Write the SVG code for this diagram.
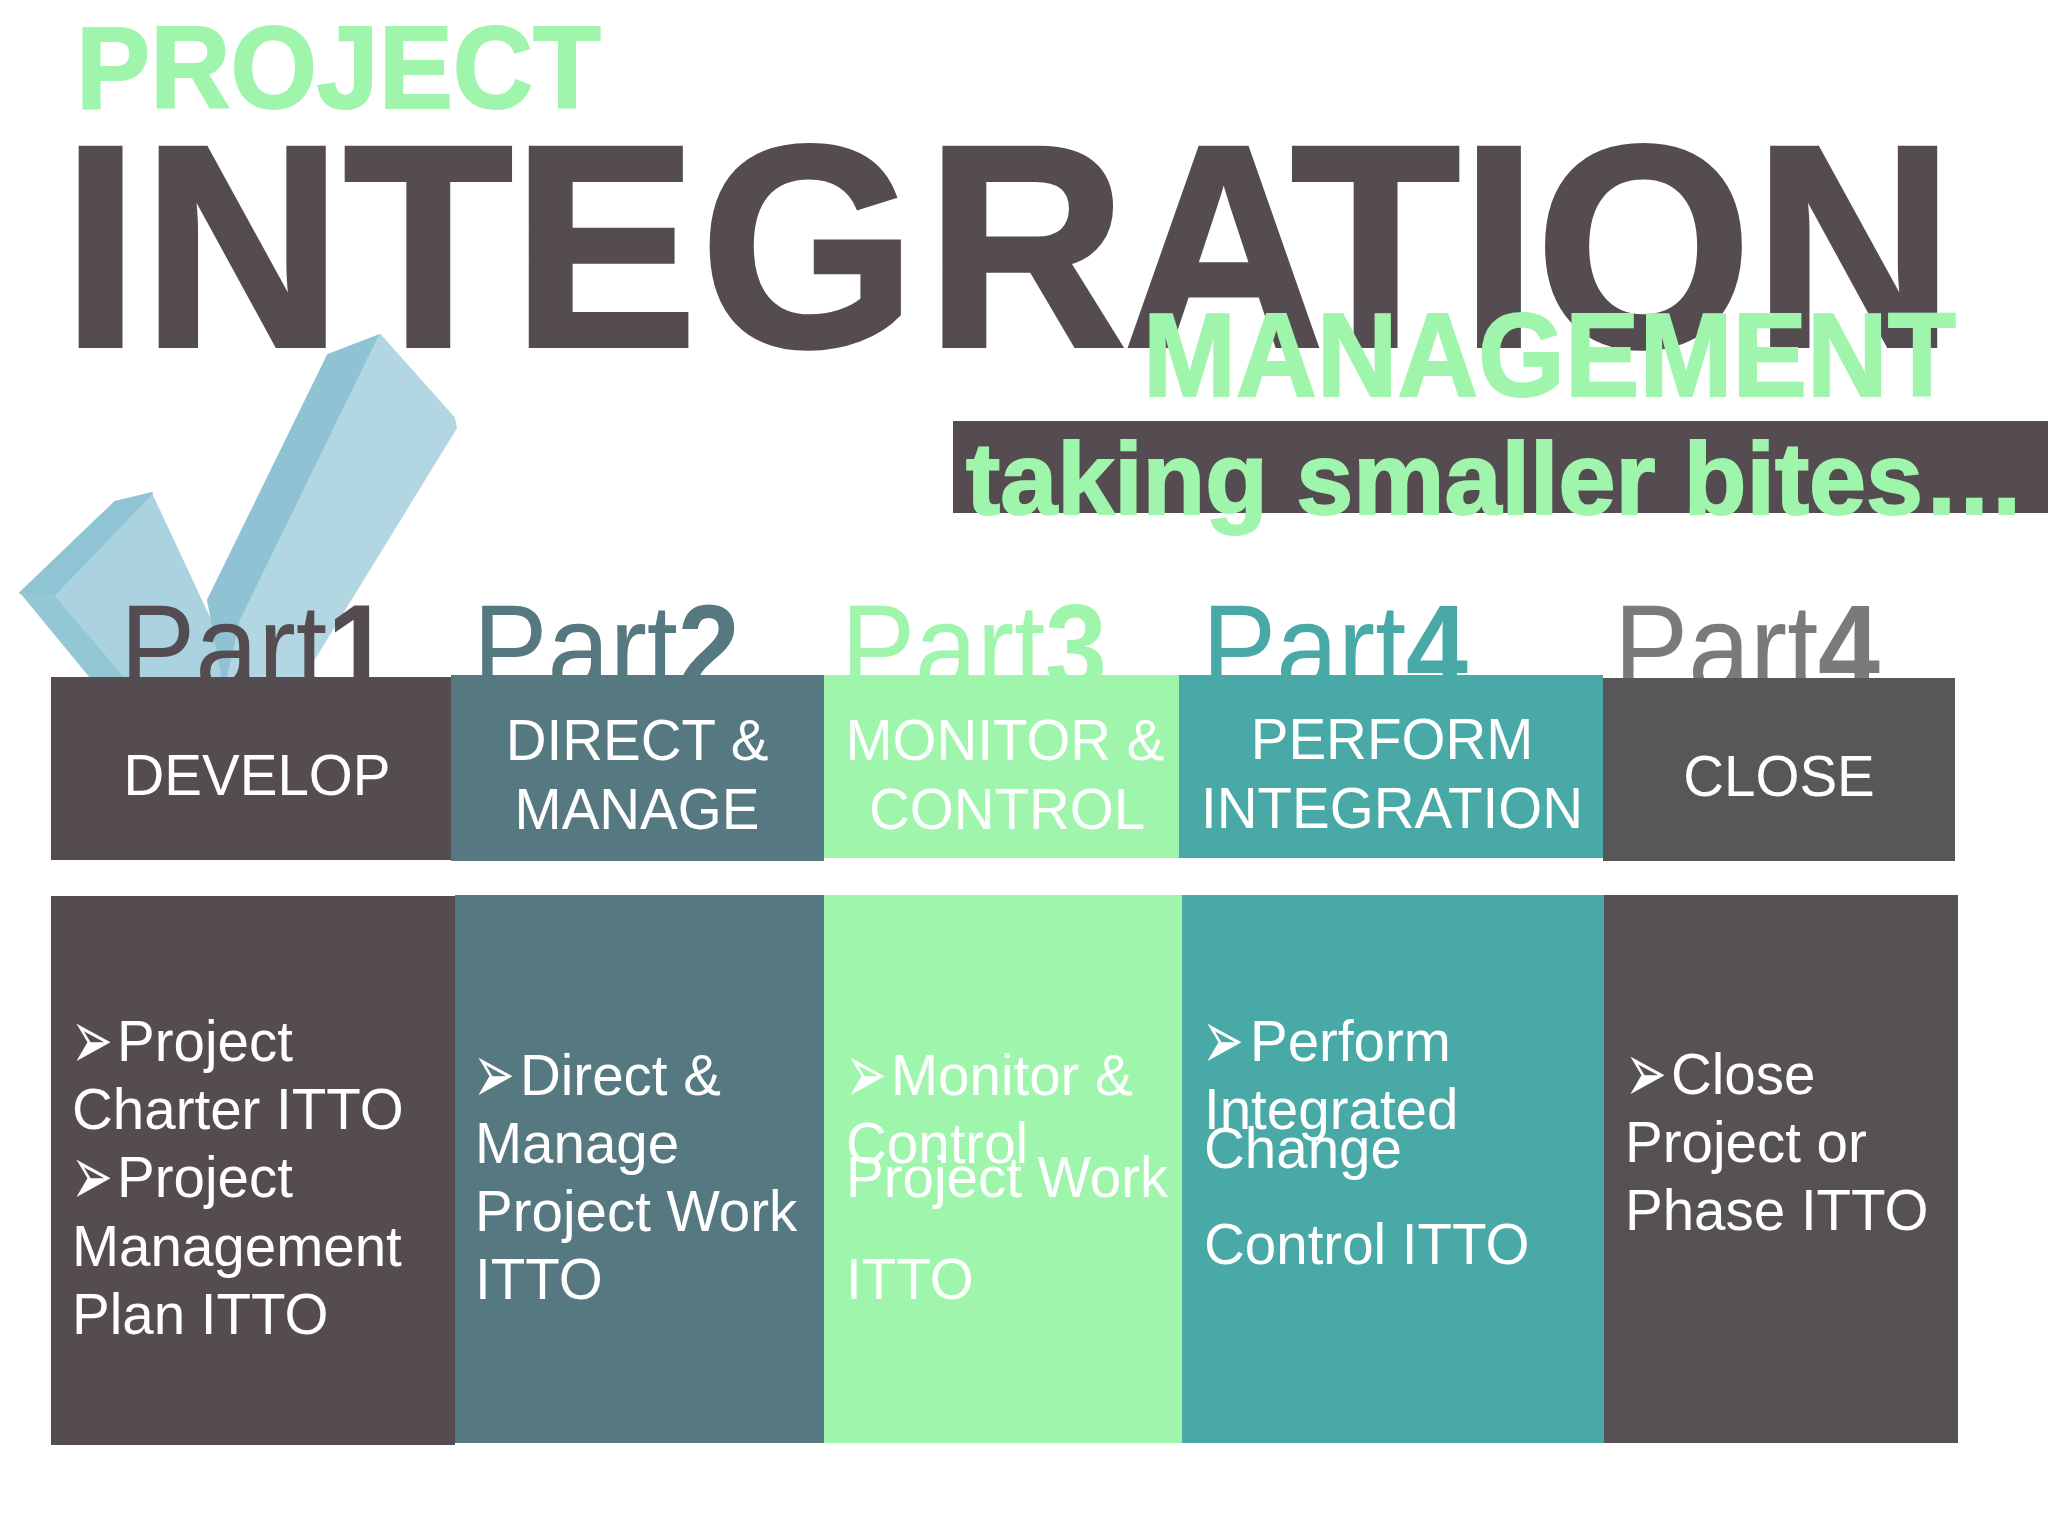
<svg xmlns="http://www.w3.org/2000/svg" width="2048" height="1536" viewBox="0 0 2048 1536">
<style>
text{font-family:"Liberation Sans",Arial,sans-serif}
.h{font-weight:bold;stroke-width:2}
.g{fill:#a0f5ac;stroke:#a0f5ac}
.d{fill:#544c50;stroke:#544c50}
.b{font-size:56.5px;fill:#fff;text-anchor:middle}
.l{font-size:56.5px;fill:#fff}
.a{font-family:"DejaVu Sans",sans-serif;font-size:50px;fill:#fff}
.p{font-size:122px}
.n{font-weight:bold}
</style>
<rect width="2048" height="1536" fill="#fff"/>
<g id="check" stroke-linejoin="round">
<path d="M54 595 L152 493 L230 660 L245 700 L120 700Z" fill="#abd3df"/>
<path d="M20 593 L115 502 L152 493 L54 595Z" fill="#8fc4d4" stroke="#8fc4d4" stroke-width="2"/>
<path d="M20 593 L54 595 L135 690 L100 690Z" fill="#94c7d6"/>
<path d="M328 355 L380 335 L241 620 L225 690 L208 600Z" fill="#8fc3d3" stroke="#8fc3d3" stroke-width="2"/>
<path d="M380 335 L454 418 L456 428 L295 690 L225 690 L241 620Z" fill="#b3d7e2" stroke="#b3d7e2" stroke-width="2"/>
</g>
<g id="title">
<text x="76" y="108" class="h g" font-size="116" textLength="525" lengthAdjust="spacingAndGlyphs">PROJECT</text>
<text x="62" y="346" class="d n" stroke-width="4" font-size="288" dx="0 3 1 -1 3 10 -3 -13 0 -2 2" textLength="1892" lengthAdjust="spacingAndGlyphs">INTEGRATION</text>
<text x="1143" y="396" class="h g" font-size="118" textLength="813" lengthAdjust="spacingAndGlyphs">MANAGEMENT</text>
<rect x="953" y="421" width="1095" height="92" fill="#544c50"/>
<text x="966" y="514" class="h g" font-size="102.5">taking smaller bites…</text>
</g>
<g id="part1">
<text x="120" y="690" class="p" fill="#544c50" textLength="270" lengthAdjust="spacingAndGlyphs">Part<tspan class="n">1</tspan></text>
<rect x="51" y="677" width="400" height="183" fill="#544c50"/>
<text x="257" y="795" class="b">DEVELOP</text>
<rect x="51" y="896" width="404" height="549" fill="#544c50"/>
<text class="a" transform="translate(71 1069) scale(1 1.7)">➢</text>
<text class="l" x="117" y="1061">Project</text>
<text class="l" x="72" y="1129">Charter ITTO</text>
<text class="a" transform="translate(71 1205) scale(1 1.7)">➢</text>
<text class="l" x="117" y="1197">Project</text>
<text class="l" x="72" y="1266">Management</text>
<text class="l" x="72" y="1334">Plan ITTO</text>
</g>
<g id="part2">
<text x="473" y="690" class="p" fill="#567880" textLength="267" lengthAdjust="spacingAndGlyphs">Part<tspan class="n">2</tspan></text>
<rect x="451" y="675" width="373" height="186" fill="#567880"/>
<text x="637" y="760" class="b">DIRECT &amp;</text>
<text x="637" y="829" class="b">MANAGE</text>
<rect x="455" y="895" width="369" height="548" fill="#567880"/>
<text class="a" transform="translate(473 1103) scale(1 1.7)">➢</text>
<text class="l" x="520" y="1095">Direct &amp;</text>
<text class="l" x="475" y="1163">Manage</text>
<text class="l" x="475" y="1231">Project Work</text>
<text class="l" x="475" y="1299">ITTO</text>
</g>
<g id="part3">
<text x="841" y="690" class="p" fill="#a0f5ac" textLength="266" lengthAdjust="spacingAndGlyphs">Part<tspan class="n">3</tspan></text>
<rect x="824" y="675" width="355" height="183" fill="#a0f5ac"/>
<text x="1005" y="760" class="b">MONITOR &amp;</text>
<text x="1007" y="829" class="b">CONTROL</text>
<rect x="824" y="895" width="358" height="548" fill="#a0f5ac"/>
<text class="a" transform="translate(845 1103) scale(1 1.7)">➢</text>
<text class="l" x="891" y="1095">Monitor &amp;</text>
<text class="l" x="846" y="1163">Control</text>
<text class="l" x="846" y="1197">Project Work</text>
<text class="l" x="846" y="1299">ITTO</text>
</g>
<g id="part4">
<text x="1202" y="690" class="p" fill="#48a9a6" textLength="266" lengthAdjust="spacingAndGlyphs">Part<tspan class="n">4</tspan></text>
<rect x="1179" y="675" width="424" height="183" fill="#48a9a6"/>
<text x="1392" y="759" class="b">PERFORM</text>
<text x="1392" y="828" class="b">INTEGRATION</text>
<rect x="1182" y="895" width="422" height="548" fill="#48a9a6"/>
<text class="a" transform="translate(1202 1069) scale(1 1.7)">➢</text>
<text class="l" x="1250" y="1061">Perform</text>
<text class="l" x="1204" y="1129">Integrated</text>
<text class="l" x="1204" y="1168">Change</text>
<text class="l" x="1204" y="1264">Control ITTO</text>
</g>
<g id="part5">
<text x="1614" y="690" class="p" fill="#7b797c" textLength="266" lengthAdjust="spacingAndGlyphs">Part<tspan class="n">4</tspan></text>
<rect x="1603" y="678" width="352" height="183" fill="#59565a"/>
<text x="1779" y="796" class="b">CLOSE</text>
<rect x="1604" y="895" width="354" height="548" fill="#555155"/>
<text class="a" transform="translate(1625 1102) scale(1 1.7)">➢</text>
<text class="l" x="1671" y="1094">Close</text>
<text class="l" x="1625" y="1162">Project or</text>
<text class="l" x="1625" y="1230">Phase ITTO</text>
</g>
</svg>
